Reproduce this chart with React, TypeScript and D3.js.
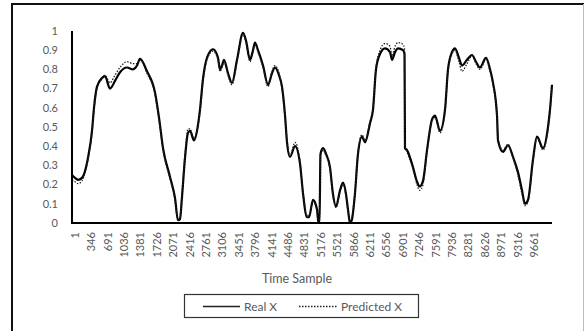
import * as d3 from "d3";
import { useEffect, useRef } from "react";

// time sample index of each point
const samples = [
  1, 64, 127, 211, 296, 338, 422, 464, 527, 632,
  695, 800, 906, 1011, 1158, 1284, 1369, 1432, 1579, 1747,
  1831, 1916, 2063, 2168, 2231, 2273, 2315, 2379, 2442, 2484,
  2568, 2631, 2694, 2757, 2841, 2968, 3073, 3115, 3157, 3199,
  3283, 3367, 3473, 3599, 3662, 3746, 3809, 3851, 3914, 4020,
  4125, 4209, 4272, 4356, 4419, 4483, 4525, 4588, 4693, 4798,
  4861, 4945, 4987, 5072, 5156, 5187, 5208, 5229, 5282, 5345,
  5429, 5492, 5555, 5640, 5703, 5766, 5808, 5850, 5892, 5955,
  6018, 6103, 6166, 6271, 6334, 6397, 6481, 6586, 6692, 6734,
  6797, 6860, 6965, 6997, 7007, 7049, 7176, 7260, 7313, 7386,
  7471, 7576, 7639, 7744, 7849, 7912, 7996, 8059, 8143, 8207,
  8312, 8417, 8501, 8585, 8712, 8796, 8859, 8943, 8964, 9069,
  9174, 9279, 9384, 9469, 9532, 9595, 9700, 9784, 9911, 10016,
  10058, 10100,
];

const realX = [
  0.25, 0.235, 0.225, 0.235, 0.29, 0.34, 0.48, 0.6, 0.71, 0.755,
  0.765, 0.7, 0.74, 0.785, 0.81, 0.8, 0.82, 0.855, 0.79, 0.68,
  0.55, 0.39, 0.24, 0.13, 0.015, 0.02, 0.135, 0.34, 0.47, 0.48,
  0.43, 0.48, 0.59, 0.75, 0.86, 0.905, 0.86, 0.8, 0.82, 0.85,
  0.78, 0.73, 0.85, 0.99, 0.95, 0.85, 0.9, 0.94, 0.9, 0.82,
  0.72, 0.78, 0.81, 0.77, 0.71, 0.56, 0.42, 0.345, 0.4, 0.31,
  0.155, 0.03, 0.03, 0.12, 0.07, 0, 0, 0.36, 0.39, 0.36,
  0.29, 0.15, 0.085, 0.17, 0.21, 0.15, 0.07, 0, 0.02, 0.155,
  0.36, 0.45, 0.42, 0.52, 0.59, 0.8, 0.88, 0.91, 0.89, 0.85,
  0.89, 0.91, 0.9, 0.88, 0.39, 0.38, 0.29, 0.215, 0.19, 0.22,
  0.38, 0.54, 0.56, 0.48, 0.59, 0.8, 0.89, 0.91, 0.86, 0.82,
  0.85, 0.875, 0.84, 0.81, 0.86, 0.8, 0.73, 0.56, 0.43, 0.37,
  0.405, 0.345, 0.265, 0.17, 0.1, 0.12, 0.33, 0.45, 0.39, 0.5,
  0.59, 0.72,
];

const predictedX = [
  0.225, 0.215, 0.205, 0.22, 0.28, 0.33, 0.47, 0.59, 0.7, 0.75,
  0.77, 0.73, 0.77, 0.81, 0.84, 0.83, 0.83, 0.85, 0.78, 0.67,
  0.54, 0.38, 0.23, 0.12, 0.01, 0.03, 0.15, 0.36, 0.49, 0.49,
  0.44, 0.48, 0.58, 0.74, 0.85, 0.895, 0.85, 0.79, 0.81, 0.84,
  0.77, 0.72, 0.84, 0.98, 0.94, 0.84, 0.89, 0.93, 0.89, 0.81,
  0.71, 0.79, 0.82, 0.78, 0.7, 0.55, 0.43, 0.35, 0.42, 0.32,
  0.16, 0.04, 0.04, 0.11, 0.06, 0, 0, 0.35, 0.38, 0.35,
  0.28, 0.14, 0.08, 0.16, 0.2, 0.14, 0.06, 0, 0.03, 0.16,
  0.37, 0.46, 0.43, 0.53, 0.6, 0.81, 0.9, 0.935, 0.92, 0.87,
  0.92, 0.94, 0.93, 0.91, 0.4, 0.37, 0.28, 0.2, 0.17, 0.2,
  0.37, 0.53, 0.55, 0.47, 0.58, 0.79, 0.88, 0.9, 0.84, 0.79,
  0.83, 0.87, 0.83, 0.8, 0.85, 0.79, 0.72, 0.55, 0.44, 0.38,
  0.41, 0.34, 0.25, 0.15, 0.09, 0.11, 0.32, 0.44, 0.38, 0.49,
  0.58, 0.71,
];

const yTicks = [0, 0.1, 0.2, 0.3, 0.4, 0.5, 0.6, 0.7, 0.8, 0.9, 1];
const xTickLabels = [
  1, 346, 691, 1036, 1381, 1726, 2071, 2416, 2761, 3106, 3451, 3796, 4141,
  4486, 4831, 5176, 5521, 5866, 6211, 6556, 6901, 7246, 7591, 7936, 8281,
  8626, 8971, 9316, 9661,
];
const seriesNames = ["Real X", "Predicted X"];

const font = "Lato, 'Open Sans', sans-serif";
const grey = "#595959";

function App() {
  const ref = useRef<SVGSVGElement>(null);
  const width = 585;
  const height = 331;

  useEffect(() => {
    const svg = d3.select(ref.current);
    svg.selectAll("*").remove();

    const x = d3.scaleLinear().domain([1, 10100]).range([72, 552]);
    const y = d3.scaleLinear().domain([0, 1]).range([223, 31]);

    // chart frame (cut off at the bottom in the original)
    svg.append("line").attr("x1", 12).attr("x2", 584).attr("y1", 4).attr("y2", 4)
      .attr("stroke", "#111").attr("stroke-width", 2);
    svg.append("line").attr("x1", 12).attr("x2", 12).attr("y1", 3).attr("y2", height)
      .attr("stroke", "#111").attr("stroke-width", 2);
    svg.append("line").attr("x1", 583.5).attr("x2", 583.5).attr("y1", 4).attr("y2", height)
      .attr("stroke", "#bbb").attr("stroke-width", 1);

    // y labels
    svg.append("g").selectAll("text").data(yTicks).join("text")
      .attr("x", 58).attr("y", (d) => y(d)).attr("dy", "0.35em")
      .attr("text-anchor", "end").attr("font-family", font)
      .attr("font-size", 11).attr("fill", grey)
      .text((d) => String(d));

    // x labels, rotated
    svg.append("g").selectAll("text").data(xTickLabels).join("text")
      .attr("transform", (d) => `translate(${x(d) + 3},232) rotate(-90)`)
      .attr("dy", "0.35em").attr("text-anchor", "end")
      .attr("font-family", font).attr("font-size", 11).attr("fill", grey)
      .text((d) => d);

    const line = (vals: number[]) =>
      d3.line<number>()
        .x((_, i) => x(samples[i]))
        .y((d) => y(d))
        .curve(d3.curveMonotoneX)(vals);

    svg.append("path").attr("d", line(realX)).attr("fill", "none")
      .attr("stroke", "#000").attr("stroke-width", 2.2)
      .attr("stroke-linejoin", "round");
    svg.append("path").attr("d", line(predictedX)).attr("fill", "none")
      .attr("stroke", "#222").attr("stroke-width", 1.3)
      .attr("stroke-dasharray", "1.5 1.5");

    // axes lines
    svg.append("line").attr("x1", 72).attr("x2", 72).attr("y1", 31).attr("y2", 224)
      .attr("stroke", "#000").attr("stroke-width", 2);
    svg.append("line").attr("x1", 71).attr("x2", 552).attr("y1", 223).attr("y2", 223)
      .attr("stroke", "#000").attr("stroke-width", 2);

    svg.append("text").attr("x", 297).attr("y", 283)
      .attr("text-anchor", "middle").attr("font-family", font)
      .attr("font-size", 12.5).attr("fill", grey).text("Time Sample");

    // legend
    const lg = svg.append("g");
    lg.append("rect").attr("x", 184.5).attr("y", 294.5).attr("width", 234).attr("height", 23)
      .attr("fill", "#fff").attr("stroke", "#333").attr("stroke-width", 1.2);
    lg.append("line").attr("x1", 203).attr("x2", 240).attr("y1", 306.5).attr("y2", 306.5)
      .attr("stroke", "#222").attr("stroke-width", 1.6);
    lg.append("text").attr("x", 244).attr("y", 310.5).attr("font-family", font)
      .attr("font-size", 12).attr("fill", grey).text(seriesNames[0]);
    lg.append("line").attr("x1", 299).attr("x2", 337).attr("y1", 306.5).attr("y2", 306.5)
      .attr("stroke", "#222").attr("stroke-width", 1.3).attr("stroke-dasharray", "1.5 1.5");
    lg.append("text").attr("x", 341).attr("y", 310.5).attr("font-family", font)
      .attr("font-size", 12).attr("fill", grey).text(seriesNames[1]);
  }, []);

  return (
    <svg
      ref={ref}
      width={width}
      height={height}
      style={{ position: "absolute", left: 0, top: 0, background: "#fff" }}
    />
  );
}

export default App;
